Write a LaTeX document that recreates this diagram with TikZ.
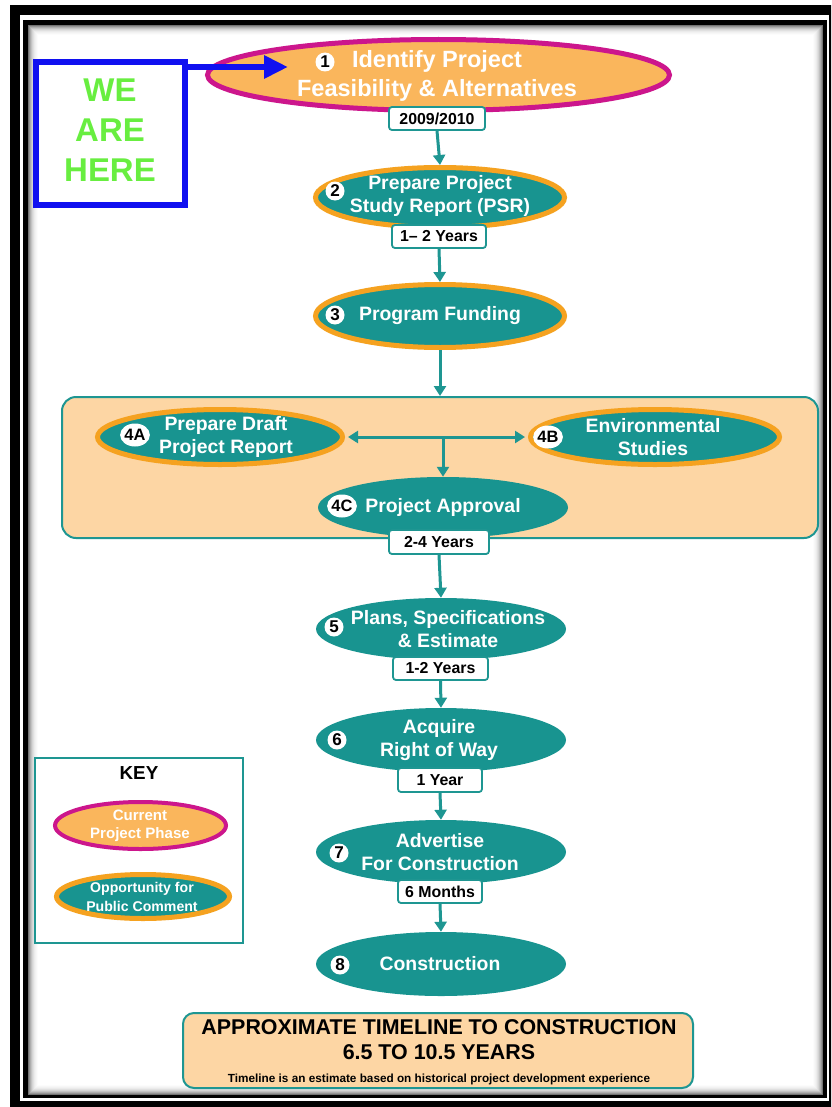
\documentclass[tikz,border=0pt]{standalone}
\usepackage{fontspec}
\setmainfont{Liberation Sans}
\usetikzlibrary{arrows.meta,shapes.geometric,calc}
\definecolor{teal1}{RGB}{24,148,144}
\definecolor{orng}{RGB}{245,162,32}
\definecolor{peach1}{RGB}{250,182,92}
\definecolor{magen}{RGB}{204,22,140}
\definecolor{peachbg}{RGB}{253,214,164}
\definecolor{tealline}{RGB}{30,150,146}
\definecolor{wgreen}{RGB}{104,238,64}
\definecolor{wblue}{RGB}{16,16,240}
\def\u{0.85pt}
\tikzset{
  shp/.style={ellipse, inner sep=0pt, fill=teal1},
  pubc/.style={shp, draw=orng, line width=5*\u},
  curp/.style={ellipse, inner sep=0pt, fill=peach1, draw=magen, line width=5*\u},
  etxt/.style={align=center, text=white, inner sep=0pt, font=\fontsize{16.5}{19.5}\selectfont\bfseries},
  lbl/.style={draw=tealline, line width=1.8*\u, fill=white, rounded corners=2.5pt, inner sep=0pt, text=black, font=\fontsize{13.5}{15}\selectfont\bfseries},
  num/.style={circle, fill=white, text=black, inner sep=0pt, minimum size=19*\u, font=\fontsize{14.5}{14.5}\selectfont\bfseries},
  numw/.style={ellipse, fill=white, text=black, inner sep=0pt, minimum width=29*\u, minimum height=23*\u, font=\fontsize{14}{14}\selectfont\bfseries},
  arr/.style={draw=tealline, line width=3*\u, -{Triangle[length=10*\u,width=12*\u]}},
  darr/.style={draw=tealline, line width=3*\u, {Triangle[length=10*\u,width=12*\u]}-{Triangle[length=10*\u,width=12*\u]}},
  pbox/.style={draw=tealline, line width=2*\u, fill=peachbg},
}
\begin{document}
\begin{tikzpicture}[x=0.85pt,y=-0.85pt]
\useasboundingbox (0,0) rectangle (831,1107);
% frame
\begin{scope}
\clip (0,0) rectangle (831,1107);
\fill[white] (0,0) rectangle (831,1107);
\fill[black] (10,5) rectangle (845,1120);
\fill[white] (20,15) rectangle (829,1101);
\fill[black] (23,20) rectangle (827,1098);
\fill[white] (28,25) rectangle (823,1095);
\foreach \i/\c in {0/55,1/42,2/32,3/24,4/17,5/12,6/8,7/5,8/3,9/1}
  \draw[black!\c, line width=1*\u] (28.5+\i,25.5+\i) rectangle (822.5-\i,1094.5-\i);
\end{scope}

% big group box
\node[pbox, rounded corners=14*\u, minimum width=756*\u, minimum height=141*\u, inner sep=0pt] (grp) at (440,467.5) {};
% bottom box
\node[pbox, rounded corners=11*\u, minimum width=510*\u, minimum height=75*\u, inner sep=0pt] (tl) at (438,1050.5) {};
\node[font=\fontsize{18.2}{21}\selectfont\bfseries, inner sep=0pt] (tl1) at (439,1027) {APPROXIMATE TIMELINE TO CONSTRUCTION};
\node[font=\fontsize{18.2}{21}\selectfont\bfseries, inner sep=0pt] (tl2) at (439,1052) {6.5 TO 10.5 YEARS};
\node[font=\fontsize{10}{12}\selectfont\bfseries, inner sep=0pt] (tl3) at (439,1079) {Timeline is an estimate based on historical project development experience};

% WE ARE HERE
\node[draw=wblue, line width=6*\u, fill=white, minimum width=149*\u, minimum height=143*\u, inner sep=0pt] (we) at (110.5,133.5) {};
\node[align=center, text=wgreen, inner sep=0pt, font=\fontsize{28}{34}\selectfont\bfseries] (wet) at (110,130.5) {WE\\ARE\\HERE};

% ellipses
\node[curp, minimum width=462*\u, minimum height=71*\u] (e1) at (438.5,75) {};
\node[pubc, minimum width=249*\u, minimum height=60*\u] (e2) at (440,197.5) {};
\node[pubc, minimum width=249*\u, minimum height=63*\u] (e3) at (440,316) {};
\node[pubc, minimum width=245*\u, minimum height=55*\u] (e4a) at (220,437) {};
\node[pubc, minimum width=249*\u, minimum height=55*\u] (e4b) at (655,437) {};
\node[shp, minimum width=250*\u, minimum height=61*\u] (e4c) at (443,507.5) {};
\node[shp, minimum width=250*\u, minimum height=62*\u] (e5) at (441,629) {};
\node[shp, minimum width=250*\u, minimum height=64*\u] (e6) at (441,740) {};
\node[shp, minimum width=250*\u, minimum height=64*\u] (e7) at (441,852) {};
\node[shp, minimum width=250*\u, minimum height=64*\u] (e8) at (441,964) {};

% ellipse texts
\node[etxt, font=\fontsize{20}{24}\selectfont\bfseries] (t1) at (437,76) {Identify Project\\Feasibility \& Alternatives};
\node[etxt] (t2) at (440,196) {Prepare Project\\Study Report (PSR)};
\node[etxt] (t3) at (440,316) {Program Funding};
\node[etxt] (t4a) at (226,437) {Prepare Draft\\Project Report};
\node[etxt] (t4b) at (653,437) {Environmental\\Studies};
\node[etxt] (t4c) at (443,507) {Project Approval};
\node[etxt] (t5) at (448,629) {Plans, Specifications\\\& Estimate};
\node[etxt] (t6) at (439,740) {Acquire\\Right of Way};
\node[etxt] (t7) at (440,852) {Advertise\\For Construction};
\node[etxt] (t8) at (440,964) {Construction};

% number circles
\node[num] (n1) at (325,62) {1};
\node[num] (n2) at (335,191) {2};
\node[num] (n3) at (335,315) {3};
\node[numw] (n4a) at (135,435) {4A};
\node[numw] (n4b) at (548,437) {4B};
\node[numw] (n4c) at (342,506) {4C};
\node[num] (n5) at (334,627) {5};
\node[num] (n6) at (337,740) {6};
\node[num] (n7) at (339,853) {7};
\node[num] (n8) at (340,965) {8};

% blue arrow
\coordinate (bs) at (185,67);
\coordinate (be) at (288,67);
\draw[wblue, line width=6*\u, -{Triangle[length=24*\u,width=22*\u]}] (bs) -- (be);

% arrows
\draw[arr] (e3.south) -- (grp.north);
\draw[darr, shorten <=3*\u, shorten >=3*\u] (e4a.east) -- (e4b.west);
\draw[arr] (e4c.north |- e4a.east) -- (e4c.north);

% labels
\node[lbl, minimum width=96*\u, minimum height=23*\u] (l1) at (437,118.5) {2009/2010};
\node[lbl, minimum width=94*\u, minimum height=23*\u] (l2) at (439,236.5) {1-- 2 Years};
\node[lbl, minimum width=100*\u, minimum height=24*\u] (l24) at (439,542) {2-4 Years};
\node[lbl, minimum width=95*\u, minimum height=23*\u] (l12) at (440.5,668.5) {1-2 Years};
\node[lbl, minimum width=84*\u, minimum height=24*\u] (l1y) at (440,780) {1 Year};
\node[lbl, minimum width=84*\u, minimum height=23*\u] (l6m) at (440,891.5) {6 Months};

\draw[arr] (l1.south) -- (e2.north);
\draw[arr] (l2.south) -- (e3.north);
\draw[arr] (l24.south) -- (e5.north);
\draw[arr] (l12.south) -- (e6.north);
\draw[arr] (l1y.south) -- (e7.north);
\draw[arr] (l6m.south) -- (e8.north);

% key
\node[draw=tealline, line width=2*\u, fill=white, minimum width=208*\u, minimum height=185*\u, inner sep=0pt] (key) at (139,850.5) {};
\node[font=\fontsize{16}{18}\selectfont\bfseries, inner sep=0pt] (keyt) at (139,773) {KEY};
\node[curp, line width=4*\u, minimum width=171*\u, minimum height=47*\u] (k1) at (140.5,825.5) {};
\node[etxt, font=\fontsize{12.8}{15.3}\selectfont\bfseries] (k1t) at (140,826) {Current\\Project Phase};
\node[pubc, minimum width=173*\u, minimum height=44*\u] (k2) at (143,896.5) {};
\node[etxt, font=\fontsize{12}{16}\selectfont\bfseries] (k2t) at (142,897) {Opportunity for\\Public Comment};
\end{tikzpicture}
\end{document}
